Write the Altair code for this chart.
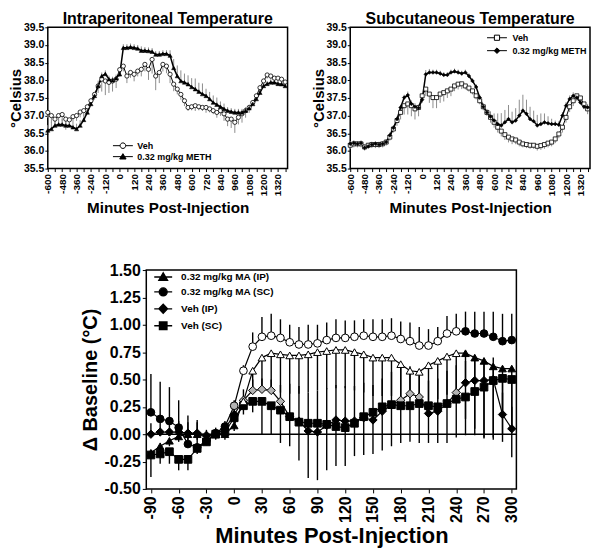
import altair as alt
import pandas as pd

FONT = "Liberation Sans"
GRAY = "#8c8c8c"

# ---------------- top panels (every 30 min) ----------------
TOP_T = [-600, -570, -540, -510, -480, -450, -420, -390, -360, -330,
         -300, -270, -240, -210, -180, -150, -120, -90, -60, -30,
         0, 30, 60, 90, 120, 150, 180, 210, 240, 270,
         300, 330, 360, 390, 420, 450, 480, 510, 540, 570,
         600, 630, 660, 690, 720, 750, 780, 810, 840, 870,
         900, 930, 960, 990, 1020, 1050, 1080, 1110, 1140, 1170,
         1200, 1230, 1260, 1290, 1320, 1350, 1380]
TOP_XTICKS = [-600, -540, -480, -420, -360, -300, -240, -180, -120, -60, 0, 60,
              120, 180, 240, 300, 360, 420, 480, 540, 600, 660, 720, 780, 840,
              900, 960, 1020, 1080, 1140, 1200, 1260, 1320, 1380]
TOP_YTICKS = [35.5, 36.0, 36.5, 37.0, 37.5, 38.0, 38.5, 39.0, 39.5]

IP_VEH = [37.09, 37.00, 36.90, 37.00, 37.03, 36.90, 36.88, 36.97, 37.00, 37.10,
          37.14, 37.25, 37.42, 37.60, 37.84, 38.03, 37.98, 37.94, 37.98, 38.03,
          38.30, 38.40, 38.12, 38.22, 38.17, 38.26, 38.31, 38.45, 38.31, 38.59,
          38.12, 38.22, 38.45, 38.40, 38.17, 37.89, 37.75, 37.60, 37.42, 37.23,
          37.25, 37.28, 37.25, 37.23, 37.23, 37.19, 37.14, 37.09, 37.14, 37.05,
          36.90, 36.90, 36.81, 36.95, 37.05, 37.14, 37.23, 37.37, 37.56, 37.79,
          37.98, 38.15, 38.12, 38.06, 38.06, 38.03, 37.95]
IP_VEH_ERR = [0.15, 0.2, 0.15, 0.2, 0.2, 0.3, 0.2, 0.15, 0.15, 0.15,
              0.15, 0.15, 0.15, 0.15, 0.2, 0.35, 0.4, 0.3, 0.3, 0.25,
              0.2, 0.15, 0.2, 0.15, 0.2, 0.15, 0.2, 0.2, 0.3, 0.4,
              0.4, 0.3, 0.2, 0.2, 0.25, 0.2, 0.15, 0.15, 0.15, 0.1,
              0.1, 0.15, 0.1, 0.1, 0.15, 0.1, 0.1, 0.15, 0.15, 0.2,
              0.2, 0.25, 0.3, 0.2, 0.25, 0.2, 0.15, 0.1, 0.1, 0.1,
              0.1, 0.1, 0.1, 0.1, 0.1, 0.1, 0.1]
IP_METH = [36.58, 36.62, 36.72, 36.75, 36.75, 36.72, 36.72, 36.67, 36.62, 36.72,
           36.88, 37.09, 37.33, 37.56, 37.84, 38.12, 38.18, 38.03, 38.00, 38.06,
           38.17, 38.92, 38.92, 38.94, 38.92, 38.90, 38.84, 38.84, 38.83, 38.81,
           38.73, 38.73, 38.75, 38.75, 38.70, 38.35, 38.12, 37.98, 37.94, 37.89,
           37.81, 37.75, 37.68, 37.61, 37.56, 37.47, 37.37, 37.31, 37.25, 37.19,
           37.14, 37.11, 37.09, 37.09, 37.09, 37.14, 37.21, 37.33, 37.47, 37.65,
           37.84, 37.90, 37.94, 37.94, 37.90, 37.89, 37.84]
IP_METH_ERR = [0.15, 0.2, 0.15, 0.15, 0.15, 0.15, 0.15, 0.15, 0.15, 0.15,
               0.15, 0.1, 0.1, 0.1, 0.15, 0.1, 0.1, 0.1, 0.1, 0.1,
               0.1, 0.1, 0.1, 0.1, 0.1, 0.1, 0.12, 0.1, 0.1, 0.1,
               0.1, 0.1, 0.1, 0.1, 0.15, 0.25, 0.3, 0.3, 0.25, 0.25,
               0.25, 0.3, 0.25, 0.3, 0.2, 0.2, 0.2, 0.2, 0.15, 0.15,
               0.1, 0.1, 0.1, 0.1, 0.1, 0.1, 0.1, 0.1, 0.1, 0.1,
               0.1, 0.08, 0.08, 0.08, 0.08, 0.08, 0.08]

SC_VEH = [36.16, 36.20, 36.20, 36.20, 36.11, 36.16, 36.18, 36.18, 36.18, 36.20,
          36.25, 36.39, 36.62, 36.86, 37.09, 37.28, 37.33, 37.28, 37.19, 37.23,
          37.56, 37.75, 37.61, 37.51, 37.51, 37.61, 37.65, 37.70, 37.75, 37.84,
          37.89, 37.90, 37.84, 37.78, 37.70, 37.56, 37.42, 37.25, 37.09, 36.95,
          36.81, 36.67, 36.56, 36.46, 36.39, 36.34, 36.31, 36.25, 36.20, 36.18,
          36.16, 36.16, 36.13, 36.15, 36.18, 36.22, 36.25, 36.34, 36.48, 36.67,
          36.95, 37.25, 37.42, 37.56, 37.50, 37.33, 37.19]
SC_VEH_ERR = [0.1, 0.1, 0.1, 0.1, 0.1, 0.1, 0.1, 0.1, 0.1, 0.1,
              0.1, 0.1, 0.1, 0.15, 0.2, 0.25, 0.3, 0.3, 0.3, 0.25,
              0.2, 0.2, 0.25, 0.3, 0.3, 0.25, 0.25, 0.2, 0.2, 0.15,
              0.15, 0.15, 0.1, 0.1, 0.1, 0.1, 0.1, 0.1, 0.1, 0.15,
              0.15, 0.15, 0.15, 0.15, 0.15, 0.15, 0.12, 0.12, 0.1, 0.1,
              0.1, 0.1, 0.12, 0.12, 0.12, 0.12, 0.12, 0.12, 0.12, 0.15,
              0.15, 0.15, 0.15, 0.15, 0.15, 0.15, 0.15]
SC_METH = [36.20, 36.22, 36.20, 36.22, 36.09, 36.13, 36.18, 36.20, 36.18, 36.20,
           36.25, 36.44, 36.65, 36.90, 37.23, 37.51, 37.58, 37.33, 37.25, 37.22,
           37.45, 38.17, 38.22, 38.22, 38.22, 38.19, 38.15, 38.15, 38.22, 38.25,
           38.22, 38.19, 38.22, 38.12, 37.98, 37.81, 37.51, 37.25, 37.09, 36.97,
           36.86, 36.76, 36.72, 36.81, 36.90, 36.81, 36.86, 37.00, 37.14, 37.05,
           36.90, 36.84, 36.72, 36.76, 36.81, 36.78, 36.76, 36.76, 36.74, 37.00,
           37.28, 37.47, 37.56, 37.51, 37.37, 37.25, 37.23]
SC_METH_ERR = [0.08, 0.08, 0.08, 0.08, 0.1, 0.1, 0.08, 0.08, 0.08, 0.08,
               0.08, 0.08, 0.08, 0.08, 0.08, 0.08, 0.1, 0.1, 0.1, 0.1,
               0.1, 0.12, 0.1, 0.08, 0.08, 0.08, 0.08, 0.08, 0.08, 0.08,
               0.08, 0.08, 0.08, 0.08, 0.08, 0.08, 0.08, 0.1, 0.1, 0.15,
               0.2, 0.3, 0.35, 0.35, 0.4, 0.3, 0.35, 0.45, 0.45, 0.4,
               0.35, 0.3, 0.3, 0.3, 0.25, 0.2, 0.15, 0.1, 0.1, 0.1,
               0.1, 0.1, 0.1, 0.1, 0.1, 0.1, 0.1]

TOP_LEG = ["Veh", "0.32 mg/kg METH"]

# ---------------- bottom panel (every 10 min) ----------------
BOT_T = [-90, -80, -70, -60, -50, -40, -30, -20, -10, 0,
         10, 20, 30, 40, 50, 60, 70, 80, 90, 100,
         110, 120, 130, 140, 150, 160, 170, 180, 190, 200,
         210, 220, 230, 240, 250, 260, 270, 280, 290, 300]
BOT_XTICKS = [-90, -60, -30, 0, 30, 60, 90, 120, 150, 180, 210, 240, 270, 300]
BOT_YTICKS = [-0.5, -0.25, 0.0, 0.25, 0.5, 0.75, 1.0, 1.25, 1.5]

MA_IP = [-0.17, -0.11, -0.06, -0.02, 0.00, 0.00, -0.03, 0.00, 0.00, 0.08,
         0.30, 0.58, 0.70, 0.74, 0.73, 0.72, 0.72, 0.73, 0.75, 0.76,
         0.77, 0.77, 0.75, 0.73, 0.70, 0.70, 0.70, 0.64, 0.58, 0.57,
         0.63, 0.67, 0.71, 0.74, 0.74, 0.70, 0.67, 0.62, 0.60, 0.60]
MA_IP_ERR = [0.05, 0.05, 0.05, 0.05, 0.05, 0.05, 0.05, 0.05, 0.05, 0.05,
             0.05, 0.15, 0.30, 0.35, 0.35, 0.35, 0.35, 0.35, 0.35, 0.35,
             0.35, 0.35, 0.35, 0.35, 0.35, 0.35, 0.35, 0.35, 0.30, 0.30,
             0.35, 0.35, 0.35, 0.40, 0.60, 0.65, 0.70, 0.67, 0.60, 0.55]
MA_IP_FILL = "kkkkkkkkkk" "wwwwwwwwww" "wwwwwwwwww" "wwwwkkkkkk"

MA_SC = [0.20, 0.14, 0.12, 0.06, -0.09, -0.12, -0.06, 0.01, 0.07, 0.26,
         0.58, 0.80, 0.89, 0.90, 0.88, 0.84, 0.82, 0.82, 0.83, 0.86,
         0.88, 0.88, 0.89, 0.90, 0.89, 0.89, 0.90, 0.87, 0.85, 0.81,
         0.81, 0.85, 0.92, 0.94, 0.94, 0.92, 0.92, 0.89, 0.85, 0.86]
MA_SC_ERR = [0.35, 0.34, 0.31, 0.25, 0.26, 0.25, 0.08, 0.05, 0.05, 0.05,
             0.05, 0.13, 0.18, 0.20, 0.17, 0.16, 0.16, 0.18, 0.17, 0.16,
             0.17, 0.16, 0.15, 0.15, 0.16, 0.16, 0.16, 0.16, 0.17, 0.17,
             0.15, 0.13, 0.16, 0.16, 0.18, 0.20, 0.20, 0.23, 0.25, 0.24]
MA_SC_FILL = "kkkkkkkkkg" "wwwwwwwwww" "wwwwwwwwww" "wwwwkkkkkk"

VEH_IP = [0.00, 0.02, 0.02, 0.02, 0.01, 0.01, -0.01, 0.00, 0.05, 0.18,
          0.31, 0.40, 0.41, 0.40, 0.30, 0.16, 0.12, 0.03, 0.02, 0.08,
          0.13, 0.12, 0.12, 0.15, 0.13, 0.21, 0.27, 0.31, 0.37, 0.34,
          0.19, 0.21, 0.28, 0.38, 0.47, 0.49, 0.49, 0.50, 0.18, 0.05]
VEH_IP_ERR = [0.10, 0.10, 0.10, 0.10, 0.10, 0.10, 0.05, 0.05, 0.05, 0.05,
              0.10, 0.10, 0.10, 0.10, 0.15, 0.30, 0.32, 0.35, 0.38, 0.34,
              0.32, 0.32, 0.32, 0.32, 0.32, 0.30, 0.30, 0.30, 0.25, 0.25,
              0.30, 0.30, 0.30, 0.25, 0.20, 0.20, 0.20, 0.20, 0.20, 0.20]
VEH_IP_FILL = "kkkkkkkkkk" "gggggkkkkk" "kkkkkkkggg" "kkkgkkkkkk"

VEH_SC = [-0.19, -0.18, -0.16, -0.23, -0.23, -0.13, -0.07, 0.00, 0.02, 0.15,
          0.26, 0.30, 0.30, 0.26, 0.22, 0.16, 0.11, 0.10, 0.10, 0.09,
          0.07, 0.06, 0.10, 0.16, 0.20, 0.25, 0.27, 0.26, 0.26, 0.28,
          0.26, 0.25, 0.28, 0.32, 0.34, 0.39, 0.43, 0.49, 0.51, 0.50]
VEH_SC_ERR = [0.20, 0.09, 0.11, 0.10, 0.10, 0.05, 0.03, 0.02, 0.02, 0.05,
              0.08, 0.10, 0.30, 0.26, 0.30, 0.27, 0.35, 0.50, 0.52, 0.42,
              0.36, 0.35, 0.30, 0.35, 0.38, 0.40, 0.38, 0.34, 0.33, 0.36,
              0.34, 0.33, 0.36, 0.35, 0.35, 0.40, 0.47, 0.52, 0.58, 0.71]
VEH_SC_FILL = "kkkkkkkkkk" "kkkkkkkkkk" "kkkkkkkkkk" "kkkkkkkkkk"

BOT_LEG = ["0.32 mg/kg MA (IP)", "0.32 mg/kg MA (SC)", "Veh (IP)", "Veh (SC)"]
FILL_COLORS = {"k": "black", "w": "white", "g": "#b4b4b4"}

# legend symbols: line segment + marker (custom paths)
P_CIRC_T = "M-2.5,0H-0.7M0.7,0H2.5M0.7,0A0.7,0.7,0,1,1,-0.7,0A0.7,0.7,0,1,1,0.7,0Z"
P_TRI_T = "M-2.5,0H2.5M-0.8,0.6L0,-0.75L0.8,0.6Z"
P_SQ_T = "M-2.5,0H-0.65M0.65,0H2.5M-0.65,-0.65H0.65V0.65H-0.65Z"
P_DIA_T = "M-2.5,0H2.5M0,-0.7L0.7,0L0,0.7L-0.7,0Z"
P_TRI_B = "M-2.25,0H2.25M-1.1,0.85L0,-1.05L1.1,0.85Z"
P_CIRC_B = "M-2.25,0H2.25M1,0A1,1,0,1,1,-1,0A1,1,0,1,1,1,0Z"
P_DIA_B = "M-2.25,0H2.25M0,-1.15L1.1,0L0,1.15L-1.1,0Z"
P_SQ_B = "M-2.25,0H2.25M-0.95,-0.95H0.95V0.95H-0.95Z"


def legend_layer(field, names, paths, fills, lx, ly, pad, off, fsize, sw):
    leg = alt.Legend(title=None, orient="none", legendX=lx, legendY=ly,
                     symbolSize=64, symbolStrokeWidth=sw,
                     symbolOpacity=1, labelFont=FONT, labelFontSize=fsize,
                     labelFontWeight="bold", labelColor="black", labelOffset=off,
                     rowPadding=pad, padding=0)
    ldf = pd.DataFrame({field: names})
    strokes = ["black" for _ in names]
    return (alt.Chart(ldf).mark_point(filled=True, opacity=1, size=64)
            .encode(shape=alt.Shape(field + ":N", scale=alt.Scale(domain=names, range=paths), legend=leg),
                    fill=alt.Fill(field + ":N", scale=alt.Scale(domain=names, range=fills), legend=leg),
                    stroke=alt.Stroke(field + ":N", scale=alt.Scale(domain=names, range=strokes), legend=leg))
            .transform_filter("false"))


def top_panel(title, veh, veh_err, meth, meth_err, vshape, vsize, mshape, msize, legend):
    df = pd.DataFrame({"t": TOP_T, "veh": veh, "meth": meth})
    df["veh_lo"] = [v - e for v, e in zip(veh, veh_err)]
    df["meth_hi"] = [v + e for v, e in zip(meth, meth_err)]
    xaxis = alt.Axis(values=TOP_XTICKS,
                     labelExpr="datum.value % 120 == 0 ? '' + datum.value : ''",
                     labelAngle=270, labelFontSize=10, labelFontWeight="bold",
                     tickSize=3, labelPadding=2, title="Minutes Post-Injection",
                     titleFontSize=15.3, titleFontWeight="bold", titlePadding=5,
                     grid=False, domain=False)
    x = alt.X("t:Q", scale=alt.Scale(domain=[-600, 1400], nice=False, zero=False), axis=xaxis)
    yaxis = alt.Axis(values=TOP_YTICKS, format=".1f", labelFontSize=10.5,
                     labelFontWeight="bold", tickSize=3, labelPadding=1,
                     minExtent=23, maxExtent=23, title="°Celsius", titleFontSize=15,
                     titleFontWeight="bold", titlePadding=1, grid=False, domain=False)
    ysc = alt.Scale(domain=[35.5, 39.5], nice=False, zero=False)

    def Y(f):
        return alt.Y(f + ":Q", scale=ysc, axis=yaxis)

    base = alt.Chart(df)
    e1 = base.mark_rule(color=GRAY, strokeWidth=1).encode(x=x, y=Y("veh"), y2="veh_lo")
    e2 = base.mark_rule(color=GRAY, strokeWidth=1).encode(x=x, y=Y("meth"), y2="meth_hi")
    l1 = base.mark_line(color="black", strokeWidth=1).encode(x=x, y=Y("veh"))
    l2 = base.mark_line(color="black", strokeWidth=1.5).encode(x=x, y=Y("meth"))
    p1 = base.mark_point(shape=vshape, filled=True, fill="white", stroke="black",
                         strokeWidth=0.8, size=vsize, opacity=1).encode(x=x, y=Y("veh"))
    p2 = base.mark_point(shape=mshape, filled=True, fill="black", stroke="black",
                         strokeWidth=0.5, size=msize, opacity=1).encode(x=x, y=Y("meth"))
    return alt.layer(e1, e2, l1, l2, p1, p2, legend).properties(
        width=241, height=142,
        title=alt.TitleParams(text=title, fontSize=16, fontWeight="bold", font=FONT,
                              offset=-4.4, anchor="middle", color="black"))


tl = top_panel("Intraperitoneal Temperature", IP_VEH, IP_VEH_ERR, IP_METH, IP_METH_ERR,
               "circle", 18, "triangle-up", 18,
               legend_layer("ip_name", TOP_LEG, [P_CIRC_T, P_TRI_T], ["white", "black"],
                            71, 114.5, 0, 10, 9, 1))
tr = top_panel("Subcutaneous Temperature", SC_VEH, SC_VEH_ERR, SC_METH, SC_METH_ERR,
               "square", 16, "diamond", 14,
               legend_layer("sc_name", TOP_LEG, [P_SQ_T, P_DIA_T], ["white", "black"],
                            143, 6, 2, 11, 9, 1))

# bottom panel
series = [
    ("Veh (IP)", VEH_IP, VEH_IP_ERR, VEH_IP_FILL, "diamond", 70, 1),
    ("Veh (SC)", VEH_SC, VEH_SC_ERR, VEH_SC_FILL, "square", 60, -1),
    ("0.32 mg/kg MA (IP)", MA_IP, MA_IP_ERR, MA_IP_FILL, "triangle-up", 60, -1),
    ("0.32 mg/kg MA (SC)", MA_SC, MA_SC_ERR, MA_SC_FILL, "circle", 60, 1),
]
rows = []
for name, vals, errs, fills, shp, sz, direction in series:
    for t, v, e, f in zip(BOT_T, vals, errs, fills):
        rows.append({"t": t, "v": v, "end": v + direction * e, "series": name,
                     "fill": FILL_COLORS[f], "shape": shp, "size": sz})
bdf = pd.DataFrame(rows)

bx_axis = alt.Axis(values=BOT_XTICKS, labelExpr="'' + datum.value", labelAngle=270,
                   labelFontSize=16, labelFontWeight="bold", tickSize=4, labelPadding=3,
                   title="Minutes Post-Injection", titleFontSize=22, titleFontWeight="bold",
                   titlePadding=3, grid=False, domain=False)
bx = alt.X("t:Q", scale=alt.Scale(domain=[-95, 305], nice=False, zero=False), axis=bx_axis)
by_axis = alt.Axis(values=BOT_YTICKS, format=".2f",
                   labelExpr="replace(datum.label, '\u2212', '-')",
                   labelFontSize=16, labelFontWeight="bold", tickSize=4, labelPadding=2,
                   minExtent=43, maxExtent=43, title="\u0394 Baseline (°C)", titleFontSize=20,
                   titleFontWeight="bold", titlePadding=3, grid=False, domain=False)
bysc = alt.Scale(domain=[-0.5, 1.5], nice=False, zero=False)


def BY(f):
    return alt.Y(f + ":Q", scale=bysc, axis=by_axis)


bbase = alt.Chart(bdf)
b_err = bbase.mark_rule(color="black", strokeWidth=1.4).encode(x=bx, y=BY("v"), y2="end")
b_zero = alt.Chart(pd.DataFrame({"z": [0.0]})).mark_rule(color="black", strokeWidth=1.5).encode(y=BY("z"))
b_line = bbase.mark_line(color="black", strokeWidth=1.2).encode(x=bx, y=BY("v"), detail="series:N")
b_pts = bbase.mark_point(filled=True, stroke="black", strokeWidth=1, opacity=1).encode(
    x=bx, y=BY("v"),
    shape=alt.Shape("shape:N", scale=None),
    fill=alt.Fill("fill:N", scale=None),
    size=alt.Size("size:Q", scale=None))
b_leg = legend_layer("b_name", BOT_LEG, [P_TRI_B, P_CIRC_B, P_DIA_B, P_SQ_B],
                     ["black", "black", "black", "black"], 12, 2, 2, 13, 10, 1.3)

bottom = alt.layer(b_err, b_zero, b_line, b_pts, b_leg).properties(width=372, height=220)

spacer = (alt.Chart(pd.DataFrame({"s": [0]})).mark_point(opacity=0)
          .encode(x=alt.X("s:Q", axis=None), y=alt.Y("s:Q", axis=None))
          .properties(width=32, height=10,
                      view=alt.ViewBackground(stroke="transparent", strokeWidth=0)))

IND = dict(shape="independent", fill="independent", stroke="independent")
top = alt.hconcat(tl, tr, spacing=63, bounds="flush").resolve_scale(**IND)
bot_row = alt.hconcat(spacer, bottom, spacing=0).resolve_scale(**IND)
chart = (alt.vconcat(top, bot_row, spacing=44)
         .resolve_scale(**IND)
         .properties(padding=0)
         .configure(font=FONT)
         .configure_view(stroke="black", strokeWidth=1.5)
         .configure_axis(labelFont=FONT, titleFont=FONT, tickColor="black",
                         labelColor="black", titleColor="black", tickWidth=1))

chart.save("out.html", embed_options={"renderer": "svg", "actions": False})
